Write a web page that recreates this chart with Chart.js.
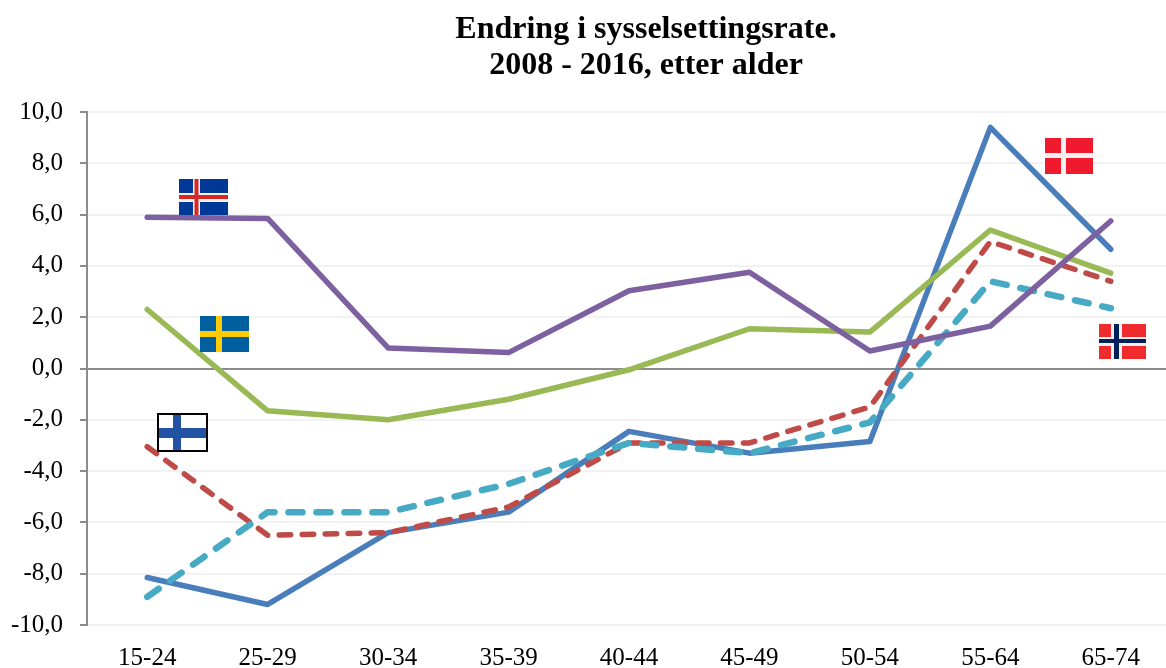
<!DOCTYPE html>
<html><head><meta charset="utf-8">
<script src="https://cdn.jsdelivr.net/npm/chart.js@4"></script>
<style>
html,body{margin:0;padding:0;background:#fff;overflow:hidden;width:1166px;height:668px}
#w{position:relative;width:1292px;height:668px}
</style></head><body>
<div id="w"><canvas id="c" width="1292" height="668"></canvas></div>
<script>
const categories=['15-24','25-29','30-34','35-39','40-44','45-49','50-54','55-64','65-74'];
const titleLines=['Endring i sysselsettingsrate.','2008 - 2016, etter alder'];
const yTicks=[-10,-8,-6,-4,-2,0,2,4,6,8,10];
const danmark=[-8.15,-9.2,-6.4,-5.6,-2.45,-3.3,-2.85,9.4,4.65];
const finland=[-3.05,-6.5,-6.4,-5.4,-2.9,-2.9,-1.5,4.95,3.4];
const sverige=[2.3,-1.65,-2.0,-1.2,-0.05,1.55,1.42,5.4,3.72];
const norge=[-8.9,-5.6,-5.6,-4.5,-2.9,-3.3,-2.1,3.4,2.35];
const island=[5.9,5.85,0.8,0.62,3.03,3.75,0.68,1.65,5.75];

// flag: anchored to axis coordinates (category index, value) at its top-left corner
const flags=[
 {at:[0.266,7.37],w:49,h:36,bg:'#003897',cross:[[14,7,'#f2f2f2',14,9],[15.5,4,'#d72828',16,4]]},
 {at:[0.44,2.03],w:49,h:36,bg:'#00609f',cross:[[16,6,'#fecc00',15,6]]},
 {at:[0.083,-1.72],w:51,h:39,bg:'#ffffff',border:'#000000',cross:[[16,8,'#2152a3',15,10]]},
 {at:[7.45,9.0],w:48,h:36,bg:'#ef1a2d',cross:[[16,5,'#f4f0f0',15,5]]},
 {at:[7.9,1.72],w:47,h:35,bg:'#ef2b2d',cross:[[12,11,'#f4f0f0',13,9],[15,5,'#00205b',15,4]]}
];
const flagPlugin={id:'flags',afterDatasetsDraw(ch){
 const {ctx,scales:{x,y}}=ch;
 ctx.save();
 flags.forEach(f=>{
  const px=Math.round(x.getPixelForValue(f.at[0])),py=Math.round(y.getPixelForValue(f.at[1]));
  ctx.fillStyle=f.bg;ctx.fillRect(px,py,f.w,f.h);
  f.cross.forEach(([vx,vw,col,hy,hh])=>{
   ctx.fillStyle=col;
   ctx.fillRect(px+vx,py,vw,f.h);
   ctx.fillRect(px,py+hy,f.w,hh);
  });
  if(f.border){ctx.strokeStyle=f.border;ctx.lineWidth=2;ctx.strokeRect(px+1,py+1,f.w-2,f.h-2);}
 });
 ctx.restore();
}};

const line=(label,data,color,order,width,dash)=>({label,data,borderColor:color,backgroundColor:color,
 borderWidth:width,pointRadius:0,tension:0,fill:false,order,borderCapStyle:'round',borderJoinStyle:'round',borderDash:dash||[]});

new Chart(document.getElementById('c'),{
 type:'line',
 data:{labels:categories,datasets:[
  line('Danmark',danmark,'#4a7ebb',5,5.5),
  line('Finland',finland,'#be4b48',4,5.5,[11.5,11.5]),
  line('Sverige',sverige,'#98b954',3,5.5),
  line('Norge',norge,'#46aac5',2,6.5,[14,14]),
  line('Island',island,'#7d60a0',1,5.5)
 ]},
 plugins:[flagPlugin],
 options:{
  responsive:false,animation:false,
  layout:{padding:0},
  plugins:{
   legend:{display:false},tooltip:{enabled:false},
   title:{display:true,text:titleLines,color:'#000',align:'center',
    font:{family:'"Liberation Serif"',size:32,weight:'bold',lineHeight:1.125},
    padding:{top:12,bottom:28}}
  },
  scales:{
   x:{type:'category',offset:true,
    afterFit(s){s.height=43;},
    grid:{display:false},border:{display:false},
    ticks:{color:'#000',font:{family:'"Liberation Serif"',size:25},padding:10,maxRotation:0,autoSkip:false}},
   y:{min:-10,max:10,
    afterFit(s){s.width=87;},
    afterBuildTicks(s){s.ticks=yTicks.map(v=>({value:v}));},
    border:{display:true,color:'#8c8c8c',width:2},
    grid:{
     color:c=>c.tick.value===0?'#8c8c8c':'#f2f2f2',
     lineWidth:2,
     tickColor:'#8c8c8c',tickLength:7,drawTicks:true},
    ticks:{color:'#000',font:{family:'"Liberation Serif"',size:25},padding:17,
     callback:v=>v.toFixed(1).replace('.',',')}},
   spacer:{position:'right',display:true,
    afterFit(s){s.width=121;},
    grid:{display:false},border:{display:false},ticks:{display:false}}
  }
 }
});
</script>
</body></html>
